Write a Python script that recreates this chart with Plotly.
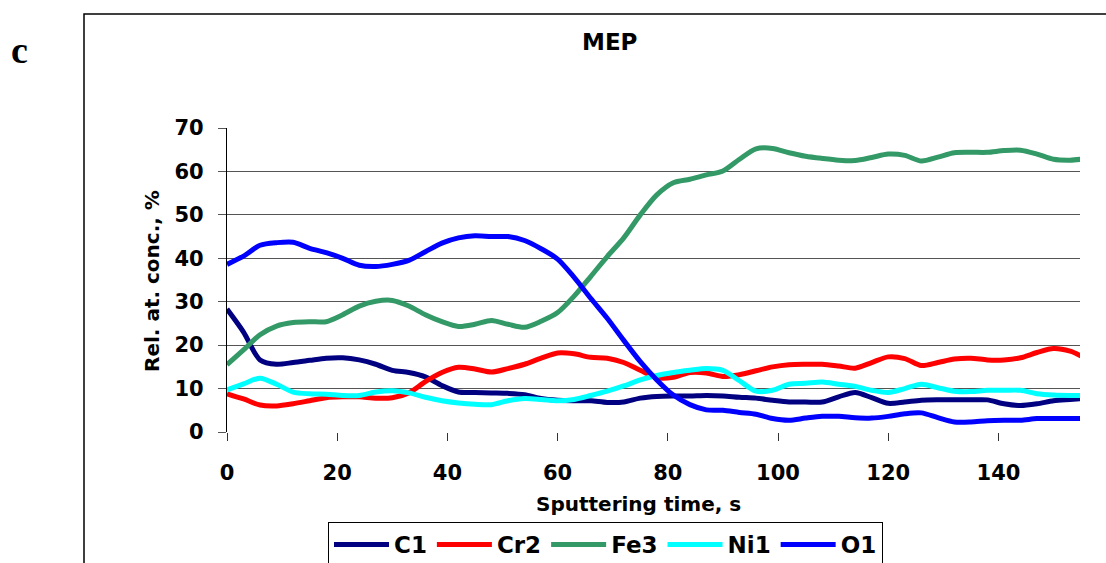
import plotly.graph_objects as go

time_s = [0, 3, 6, 9, 12, 15, 18, 21, 24, 27, 30, 33, 36, 39, 42, 45, 48, 51, 54, 57,
          60, 63, 66, 69, 72, 75, 78, 81, 84, 87, 90, 93, 96, 99, 102, 105, 108, 111,
          114, 117, 120, 123, 126, 129, 132, 135, 138, 141, 144, 147, 150, 153, 155]

c1 = [28.3, 23.0, 16.6, 15.6, 16.0, 16.5, 17.0, 17.1, 16.6, 15.6, 14.2, 13.7, 12.7, 10.7,
      9.2, 9.1, 9.0, 8.9, 8.6, 7.7, 7.3, 7.2, 7.2, 6.8, 6.9, 7.8, 8.2, 8.3, 8.3, 8.4, 8.3,
      8.0, 7.8, 7.3, 6.9, 6.9, 6.9, 8.1, 9.1, 7.9, 6.6, 6.9, 7.3, 7.4, 7.4, 7.4, 7.4, 6.5,
      6.1, 6.5, 7.2, 7.5, 7.7]

cr2 = [8.8, 7.6, 6.2, 6.0, 6.5, 7.2, 7.9, 8.1, 8.1, 7.8, 7.9, 9.0, 11.6, 13.7, 14.9, 14.5,
       13.8, 14.6, 15.6, 17.0, 18.2, 18.0, 17.2, 17.0, 16.0, 14.2, 12.5, 12.6, 13.7, 13.6,
       12.8, 13.2, 14.1, 15.0, 15.5, 15.6, 15.6, 15.2, 14.7, 16.0, 17.3, 16.9, 15.3, 16.0,
       16.8, 17.0, 16.6, 16.6, 17.1, 18.3, 19.2, 18.6, 17.5]

fe3 = [15.5, 18.9, 22.4, 24.4, 25.2, 25.4, 25.4, 27.0, 29.0, 30.1, 30.3, 29.0, 27.0, 25.4,
       24.3, 24.8, 25.7, 24.8, 24.1, 25.5, 27.5, 31.3, 35.8, 40.4, 44.7, 50.0, 54.6, 57.4,
       58.2, 59.2, 60.1, 62.8, 65.2, 65.3, 64.3, 63.5, 63.0, 62.6, 62.5, 63.2, 64.0, 63.7,
       62.4, 63.3, 64.3, 64.4, 64.4, 64.8, 64.9, 64.0, 62.8, 62.6, 62.8]

ni1 = [9.7, 11.1, 12.4, 11.0, 9.2, 8.8, 8.7, 8.4, 8.4, 9.2, 9.5, 9.0, 8.0, 7.2, 6.7, 6.4,
       6.3, 7.2, 7.7, 7.5, 7.2, 7.5, 8.4, 9.4, 10.6, 12.0, 13.0, 13.7, 14.2, 14.6, 14.2,
       11.8, 9.4, 9.6, 11.0, 11.2, 11.5, 11.0, 10.5, 9.6, 9.1, 10.0, 11.0, 10.2, 9.4, 9.3,
       9.6, 9.6, 9.6, 8.8, 8.5, 8.4, 8.4]

o1 = [38.6, 40.5, 43.0, 43.6, 43.7, 42.3, 41.3, 40.0, 38.4, 38.1, 38.6, 39.5, 41.5, 43.5,
      44.7, 45.2, 45.0, 45.0, 44.1, 42.2, 39.8, 35.6, 30.8, 26.2, 21.1, 16.2, 12.0, 8.5,
      6.3, 5.1, 5.0, 4.5, 4.1, 3.1, 2.7, 3.2, 3.6, 3.6, 3.3, 3.2, 3.6, 4.2, 4.4, 3.3, 2.3,
      2.3, 2.6, 2.7, 2.7, 3.1, 3.1, 3.1, 3.1]

series_names = ["C1", "Cr2", "Fe3", "Ni1", "O1"]
series_values = [c1, cr2, fe3, ni1, o1]
series_colors = ["#000080", "#FF0000", "#339966", "#00FFFF", "#0000FF"]

x_ticks = [0, 20, 40, 60, 80, 100, 120, 140]
y_ticks = [0, 10, 20, 30, 40, 50, 60, 70]

W, H = 1106, 563
PL, PR, PT, PB = 227, 1080, 128, 432  # plot area pixel bounds

fig = go.Figure()
for name, vals, col in zip(series_names, series_values, series_colors):
    fig.add_trace(go.Scatter(
        x=time_s, y=vals, name=name, mode="lines",
        line=dict(color=col, width=5, shape="spline", smoothing=0.8),
    ))

def px_x(p):
    return (p - PL) / (PR - PL)

def px_y(p):
    return (PB - p) / (PB - PT)

sans = "DejaVu Sans, Verdana, sans-serif"

fig.update_layout(
    width=W, height=H,
    margin=dict(l=PL, r=W - PR, t=PT, b=H - PB, autoexpand=False),
    paper_bgcolor="white", plot_bgcolor="white",
    showlegend=True,
    legend=dict(
        orientation="h", x=px_x(328), xanchor="left", y=px_y(522), yanchor="top",
        bordercolor="black", borderwidth=1, bgcolor="white",
        font=dict(family=sans, size=23, color="black", weight="bold"),
        itemwidth=55, tracegroupgap=0,
    ),
    xaxis=dict(
        range=[0, 154.8], tickvals=x_ticks, ticks="outside", ticklen=8, tickcolor="#333",
        showgrid=False, zeroline=False, showline=False,
        tickfont=dict(family=sans, size=21, color="black", weight="bold"),
        ticklabelstandoff=14,
    ),
    yaxis=dict(
        range=[0, 70], tickvals=y_ticks, ticks="outside", ticklen=8, tickcolor="#555",
        showgrid=True, gridcolor="#555", gridwidth=1.3, zeroline=False,
        showline=True, linecolor="black", linewidth=1.2,
        tickfont=dict(family=sans, size=21, color="black", weight="bold"),
        ticklabelstandoff=10,
    ),
    shapes=[
        dict(type="rect", xref="paper", yref="paper",
             x0=px_x(84), x1=px_x(1130), y0=px_y(600), y1=px_y(14),
             line=dict(color="black", width=1.5), fillcolor="rgba(0,0,0,0)", layer="below"),
    ],
    annotations=[
        dict(text="MEP", xref="paper", yref="paper", x=px_x(609), y=px_y(42),
             showarrow=False, xanchor="center", yanchor="middle",
             font=dict(family=sans, size=23, color="black", weight="bold")),
        dict(text="c", xref="paper", yref="paper", x=px_x(19), y=px_y(50),
             showarrow=False, xanchor="center", yanchor="middle",
             font=dict(family="Liberation Serif, Times New Roman, serif", size=38,
                       color="black", weight="bold")),
        dict(text="Sputtering time, s", xref="paper", yref="paper", x=px_x(638), y=px_y(504),
             showarrow=False, xanchor="center", yanchor="middle",
             font=dict(family=sans, size=20, color="black", weight="bold")),
        dict(text="Rel. at. conc., %", xref="paper", yref="paper", x=px_x(152), y=px_y(281),
             showarrow=False, xanchor="center", yanchor="middle", textangle=-90,
             font=dict(family=sans, size=20, color="black", weight="bold")),
    ],
)

fig.write_html("out.html")
